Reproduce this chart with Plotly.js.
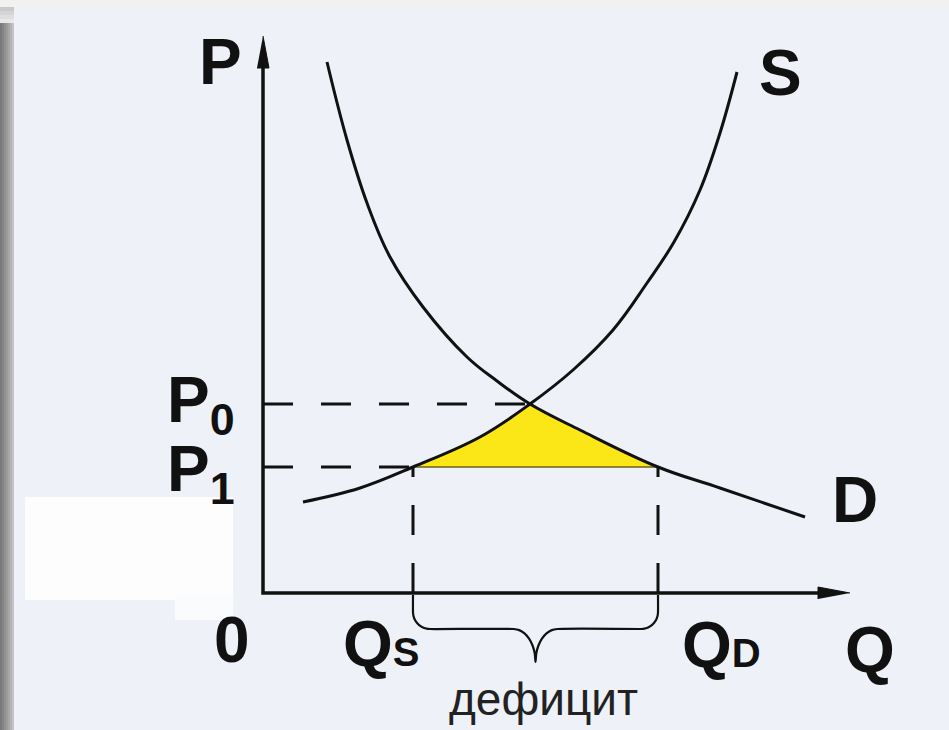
<!DOCTYPE html>
<html>
<head>
<meta charset="utf-8">
<script src="https://cdn.plot.ly/plotly-3.0.1.min.js"></script>
<style>
  html, body { margin: 0; padding: 0; background: #eef1f8; }
  #chart { width: 949px; height: 730px; }
</style>
</head>
<body>
<div id="chart"></div>
<script>
// ---- Data (Q = quantity, P = price) ----
const demandQ = [1.28, 1.68, 2.08, 2.54, 3.20, 4.08, 4.68, 5.34, 6.34, 7.90, 9.14, 10.84];
const demandP = [10.62, 9.06, 7.80, 6.72, 5.72, 4.72, 4.24, 3.78, 3.26, 2.52, 2.10, 1.52];
const supplyQ = [0.80, 1.94, 3.00, 4.34, 5.34, 6.20, 7.00, 7.68, 8.22, 8.74, 9.14, 9.48];
const supplyP = [1.82, 2.10, 2.52, 3.12, 3.78, 4.46, 5.26, 6.20, 7.02, 8.06, 9.20, 10.42];
const Q_S = 3.00;   // quantity supplied at P1
const Q_D = 7.90;   // quantity demanded at P1
const Q_E = 5.34;   // equilibrium quantity
const P_0 = 3.78;   // equilibrium price
const P_1 = 2.52;   // fixed (lower) price
const axisQmax = 11.74;
const axisPmax = 11.14;
const labels = {P: 'P', Q: 'Q', S: 'S', D: 'D', zero: '0', P0: 'P<sub>0</sub>', P1: 'P<sub>1</sub>',
                QS: 'Q<span style="font-size:40px">S</span>', QD: 'Q<span style="font-size:40px">D</span>',
                deficit: 'дефицит'};

// ---- helpers ----
const W = 949, H = 730;
const X0 = -5.26, X1 = 13.72, Y0 = -2.74, Y1 = 11.86;
const pxX = (px) => px / W, pxY = (py) => 1 - py / H;
const ink = '#111111';
const yellow = '#fbe617';

function subset(xs, ys, lo, hi) {
  const ox = [], oy = [];
  xs.forEach((x, i) => { if (x >= lo - 1e-9 && x <= hi + 1e-9) { ox.push(x); oy.push(ys[i]); } });
  return {x: ox, y: oy};
}
const supSeg = subset(supplyQ, supplyP, Q_S, Q_E);
const demSeg = subset(demandQ, demandP, Q_E, Q_D);

// curly brace below the axis between Q_S and Q_D
function bracePath(a, b) {
  const r = 0.34, yTop = -0.04, yMid = -0.72, yTip = -1.38, m = (a + b) / 2;
  const bx = [], by = [];
  bx.push(a); by.push(yTop);
  for (let k = 0; k <= 8; k++) { const t = k * Math.PI / 16; bx.push(a + r - r * Math.cos(t)); by.push(yMid + r - r * Math.sin(t)); }
  bx.push(m - 0.44); by.push(yMid);
  for (let k = 1; k <= 6; k++) { const t = k / 6; bx.push(m - 0.44 + 0.44 * Math.sin(t * Math.PI / 2)); by.push(yMid - (yMid - yTip) * (1 - Math.cos(t * Math.PI / 2))); }
  for (let k = 5; k >= 0; k--) { const t = k / 6; bx.push(m + 0.44 - 0.44 * Math.sin(t * Math.PI / 2)); by.push(yMid - (yMid - yTip) * (1 - Math.cos(t * Math.PI / 2))); }
  bx.push(b - r); by.push(yMid);
  for (let k = 8; k >= 0; k--) { const t = k * Math.PI / 16; bx.push(b - r + r * Math.cos(t)); by.push(yMid + r - r * Math.sin(t)); }
  bx.push(b); by.push(yTop);
  return {x: bx, y: by};
}
const br = bracePath(Q_S, Q_D);

const headL = 0.64, headW = 0.12;
const dash = '30px,28px';
const traces = [
  // yellow deficit area
  {x: [Q_S, Q_E], y: [P_1, P_1], mode: 'lines', line: {color: '#6b5e1a', width: 1.5}, hoverinfo: 'skip'},
  {x: supSeg.x, y: supSeg.y, mode: 'lines', line: {color: yellow, width: 0, shape: 'spline'}, fill: 'tonexty', fillcolor: yellow, hoverinfo: 'skip'},
  {x: [Q_E, Q_D], y: [P_1, P_1], mode: 'lines', line: {color: '#6b5e1a', width: 1.5}, hoverinfo: 'skip'},
  {x: demSeg.x, y: demSeg.y, mode: 'lines', line: {color: yellow, width: 0, shape: 'spline'}, fill: 'tonexty', fillcolor: yellow, hoverinfo: 'skip'},
  // dashed guides
  {x: [0, Q_E], y: [P_0, P_0], mode: 'lines', line: {color: ink, width: 3, dash: dash}},
  {x: [0, Q_S], y: [P_1, P_1], mode: 'lines', line: {color: ink, width: 3, dash: dash}},
  {x: [Q_S, Q_S], y: [0, P_1], mode: 'lines', line: {color: ink, width: 3, dash: dash}},
  {x: [Q_D, Q_D], y: [0, P_1], mode: 'lines', line: {color: ink, width: 3, dash: dash}},
  // curves
  {x: demandQ, y: demandP, mode: 'lines', line: {color: ink, width: 3, shape: 'spline', smoothing: 1.1}},
  {x: supplyQ, y: supplyP, mode: 'lines', line: {color: ink, width: 3, shape: 'spline', smoothing: 1.1}},
  // axes
  {x: [0, 0, axisQmax - headL], y: [axisPmax - headL, 0, 0], mode: 'lines', line: {color: ink, width: 3.5}},
  {x: [-headW, headW, 0], y: [axisPmax - headL, axisPmax - headL, axisPmax], mode: 'lines', fill: 'toself', fillcolor: ink, line: {color: ink, width: 1}},
  {x: [axisQmax - headL, axisQmax - headL, axisQmax], y: [-headW, headW, 0], mode: 'lines', fill: 'toself', fillcolor: ink, line: {color: ink, width: 1}},
  // brace
  {x: br.x, y: br.y, mode: 'lines', line: {color: ink, width: 2.2, shape: 'spline', smoothing: 0.6}}
];

const big = {family: 'Liberation Sans, Arial, sans-serif', size: 64, color: ink, weight: 'bold'};
function lab(text, x, y, xa, extra) {
  return Object.assign({text: text, x: x, y: y, xref: 'x', yref: 'y', showarrow: false, xanchor: xa || 'center', yanchor: 'middle', font: big}, extra || {});
}
const annotations = [
  lab('<b>' + labels.P + '</b>', -0.86, 10.62),
  lab('<b>' + labels.S + '</b>', 10.34, 10.40),
  lab('<b>' + labels.P0 + '</b>', -0.52, 3.78, 'right'),
  lab('<b>' + labels.P1 + '</b>', -0.52, 2.40, 'right'),
  lab('<b>' + labels.D + '</b>', 11.84, 1.86),
  lab('<b>' + labels.zero + '</b>', -0.62, -0.94),
  lab('<b>' + labels.QS + '</b>', 2.36, -1.02),
  lab('<b>' + labels.QD + '</b>', 9.16, -1.04),
  lab('<b>' + labels.Q + '</b>', 12.14, -1.14),
  lab(labels.deficit, 5.60, -2.12, 'center', {font: {family: 'Liberation Sans, Arial, sans-serif', size: 46, color: '#222'}})
];

// background decoration (frame shadow, top strip, white patch)
const shapes = [];
function rectPx(x0, y0, x1, y1, color) {
  shapes.push({type: 'rect', xref: 'paper', yref: 'paper', x0: pxX(x0), x1: pxX(x1), y0: pxY(y1), y1: pxY(y0), fillcolor: color, line: {width: 0}, layer: 'below'});
}
rectPx(0, 0, 949, 7, '#f1f1ef');
const shade = ['#7a7a7a', '#858585', '#909090', '#9c9c9c', '#a8a8a8', '#b5b5b5', '#c4c4c4'];
shade.forEach((c, i) => rectPx(i * 2, 22, i * 2 + 2, 730, c));
const shadeTop = ['#c9c9c9', '#d4d4d4', '#dedede', '#e8e8e8'];
shadeTop.forEach((c, i) => rectPx(0, 7 + i * 4, 14, 11 + i * 4, c));
rectPx(25, 497, 233, 600, '#fdfdfd');
rectPx(175, 595, 233, 620, '#fafbfc');

const layout = {
  width: W, height: H,
  margin: {l: 0, r: 0, t: 0, b: 0},
  paper_bgcolor: '#eef1f8', plot_bgcolor: 'rgba(0,0,0,0)',
  showlegend: false,
  xaxis: {range: [X0, X1], visible: false, fixedrange: true},
  yaxis: {range: [Y0, Y1], visible: false, fixedrange: true},
  annotations: annotations,
  shapes: shapes
};
Plotly.newPlot('chart', traces, layout, {staticPlot: true, displayModeBar: false});
</script>
</body>
</html>
